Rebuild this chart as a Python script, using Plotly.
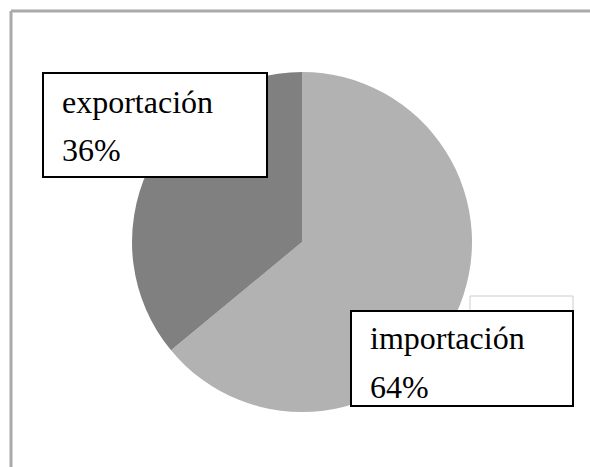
import plotly.graph_objects as go

labels = ["importación", "exportación"]
values = [64, 36]
colors = ["#b2b2b2", "#808080"]

W, H = 590, 467

def px(x):
    return x / W

def py(y):
    return 1 - y / H

cx, cy, r = 302, 242, 170

fig = go.Figure(go.Pie(
    labels=labels,
    values=values,
    sort=False,
    direction="clockwise",
    rotation=0,
    marker=dict(colors=colors, line=dict(width=0)),
    textinfo="none",
    hoverinfo="label+percent",
    showlegend=False,
    domain=dict(x=[px(cx - r), px(cx + r)], y=[py(cy + r), py(cy - r)]),
))

shapes = []
# outer frame (top and left lines)
shapes.append(dict(type="line", xref="paper", yref="paper", x0=px(11), x1=px(600), y0=py(11), y1=py(11),
                   line=dict(color="#aaaaaa", width=3)))
shapes.append(dict(type="line", xref="paper", yref="paper", x0=px(11), x1=px(11), y0=py(11), y1=py(480),
                   line=dict(color="#aaaaaa", width=3)))
# faint box behind importación label
shapes.append(dict(type="rect", xref="paper", yref="paper", x0=px(470), x1=px(573), y0=py(296), y1=py(330),
                   line=dict(color="#cccccc", width=1), fillcolor="white", layer="above"))

# label boxes: (label index, box x0, y0, x1, y1, text x, baseline1, baseline2)
boxes = [
    (1, 43, 73, 267, 177, 60, 112, 160),
    (0, 351, 311, 573, 406, 368, 348, 397),
]
annotations = []
for idx, x0, y0, x1, y1, tx, b1, b2 in boxes:
    shapes.append(dict(type="rect", xref="paper", yref="paper", x0=px(x0), x1=px(x1), y0=py(y0), y1=py(y1),
                       line=dict(color="black", width=2), fillcolor="white", layer="above"))
    for txt, base in ((labels[idx], b1), (f"{values[idx]}%", b2)):
        annotations.append(dict(
            text=txt, xref="paper", yref="paper", x=px(tx), y=py(base - 10),
            xanchor="left", yanchor="middle", showarrow=False,
            font=dict(family="Liberation Serif", size=32, color="black"),
        ))

fig.update_layout(
    width=W, height=H,
    margin=dict(l=0, r=0, t=0, b=0),
    paper_bgcolor="white", plot_bgcolor="white",
    shapes=shapes, annotations=annotations,
)

fig.write_html("out.html", config={"displayModeBar": False},
               post_script="document.body.style.margin='0';document.body.style.overflow='hidden';")
